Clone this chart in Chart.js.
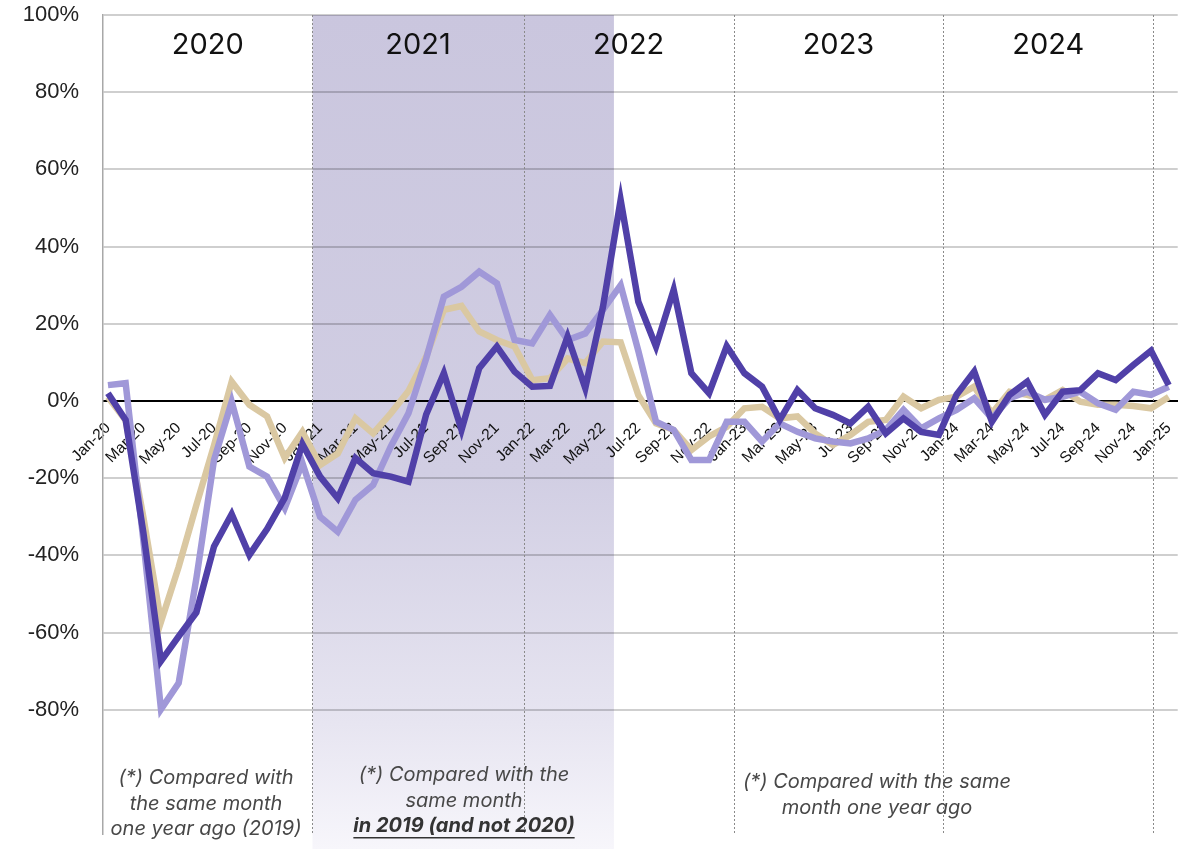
<!DOCTYPE html>
<html>
<head>
<meta charset="utf-8">
<script src="https://cdn.jsdelivr.net/npm/chart.js@4.4.1/dist/chart.umd.min.js"></script>
<style>
  html, body { margin: 0; padding: 0; background: #fff; }
  #wrap { width: 1200px; height: 849px; position: relative; }
</style>
</head>
<body>
<div id="wrap"><canvas id="myChart"></canvas></div>
<script>
// monthly change vs. reference month, Jan-20 .. Jan-25
const months = [
    "Jan-20", "Feb-20", "Mar-20", "Apr-20", "May-20", "Jun-20", "Jul-20", "Aug-20", "Sep-20", "Oct-20", "Nov-20", "Dec-20",
    "Jan-21", "Feb-21", "Mar-21", "Apr-21", "May-21", "Jun-21", "Jul-21", "Aug-21", "Sep-21", "Oct-21", "Nov-21", "Dec-21",
    "Jan-22", "Feb-22", "Mar-22", "Apr-22", "May-22", "Jun-22", "Jul-22", "Aug-22", "Sep-22", "Oct-22", "Nov-22", "Dec-22",
    "Jan-23", "Feb-23", "Mar-23", "Apr-23", "May-23", "Jun-23", "Jul-23", "Aug-23", "Sep-23", "Oct-23", "Nov-23", "Dec-23",
    "Jan-24", "Feb-24", "Mar-24", "Apr-24", "May-24", "Jun-24", "Jul-24", "Aug-24", "Sep-24", "Oct-24", "Nov-24", "Dec-24",
    "Jan-25"
];

const darkSeries = [
    2.0, -4.9, -34, -67.4, -61, -54.8, -37.7, -29.3, -39.9, -33.2, -25.1, -11.2,
    -19.6, -25.2, -14.8, -18.7, -19.6, -20.9, -3.5, 7.2, -7.5, 8.5, 14.1, 7.6,
    3.7, 3.9, 16.7, 3.3, 24.4, 52.1, 25.7, 14.1, 28.8, 7.2, 2.0, 14.2,
    7.2, 3.7, -4.9, 2.8, -1.9, -3.6, -5.8, -1.5, -8.4, -4.5, -8.0, -8.8,
    1.6, 7.6, -5.4, 1.6, 5.0, -3.6, 2.4, 2.8, 7.2, 5.4, 9.3, 13.0,
    4.1
];

const lightSeries = [
    4.1, 4.6, -36, -79.9, -73.1, -46, -15.3, -0.2, -17, -19.6, -27.8, -16.1,
    -30, -33.9, -25.6, -21.8, -11.8, -3.2, 11, 27, 29.6, 33.5, 30.5, 15.8,
    14.9, 22.3, 15.8, 17.5, 23.6, 30, 13, -5.4, -7.5, -15.3, -15.3, -5.4,
    -5.4, -10.5, -5.8, -8, -9.7, -10.5, -11, -9.7, -7.5, -2.3, -7.1, -4.5,
    -2.3, 0.7, -4.5, 0.7, 2.4, 0.3, 1.1, 2.4, -0.6, -2.3, 2.4, 1.6,
    3.7
];

const tanSeries = [
    1, -5, -30, -57.2, -43, -27, -11.5, 5, -1, -4, -14.8, -8,
    -16.6, -13.6, -4.5, -8.4, -3.2, 2.6, 11.5, 23.6, 24.6, 18, 15.8, 14.1,
    5.4, 5.9, 11, 9.8, 15.4, 15.2, 1.5, -5.8, -7.5, -12.7, -9.2, -6.7,
    -1.9, -1.5, -4.5, -4, -8.4, -11.4, -8.8, -5.4, -4.9, 1.1, -1.9, 0.3,
    1.1, 3.7, -3.2, 2.4, 1.6, 0.3, 2.8, -0.2, -1, -1, -1.3, -1.9,
    1
];

const yTicks = [-80, -60, -40, -20, 0, 20, 40, 60, 80, 100];
const xTicks = [0, 2, 4, 6, 8, 10, 12, 14, 16, 18, 20, 22, 24, 26, 28, 30, 32, 34, 36, 38, 40, 42, 44, 46, 48, 50, 52, 54, 56, 58, 60];

const years = ["2020", "2021", "2022", "2023", "2024"];
// year separators and the shaded band, in month units on the x axis
const yearBreaks = [11.57, 23.51, 35.39, 47.25, 59.12];
const shadeFrom = 11.57;
const shadeTo = 28.62;

const notes = [
    { x: 206, lines: ["(*) Compared with", "the same month", "one year ago (2019)"], y: 778, bold: [] },
    { x: 464, lines: ["(*) Compared with the", "same month", "in 2019 (and not 2020)"], y: 775, bold: [2] },
    { x: 877, lines: ["(*) Compared with the same", "month one year ago"], y: 782, bold: [] }
];

const xMin = -0.28;
const xMax = 60.51;

const decorPlugin = {
    id: "decor",
    beforeDraw(chart) {
        const ctx = chart.ctx;
        const area = chart.chartArea;
        const x = chart.scales.x;
        ctx.save();
        ctx.fillStyle = "#fff";
        ctx.fillRect(0, 0, chart.width, chart.height);
        const x0 = x.getPixelForValue(shadeFrom);
        const x1 = x.getPixelForValue(shadeTo);
        const grad = ctx.createLinearGradient(0, area.top, 0, chart.height);
        grad.addColorStop(0, "rgb(202,198,222)");
        grad.addColorStop(0.55, "rgb(209,206,227)");
        grad.addColorStop(0.85, "rgb(231,229,241)");
        grad.addColorStop(1, "rgb(247,246,251)");
        ctx.fillStyle = grad;
        ctx.fillRect(x0, area.top, x1 - x0, chart.height - area.top);
        ctx.restore();
    },
    beforeDatasetsDraw(chart) {
        const ctx = chart.ctx;
        const area = chart.chartArea;
        const x = chart.scales.x;
        ctx.save();
        ctx.strokeStyle = "#8a8a8a";
        ctx.lineWidth = 1;
        ctx.setLineDash([2, 2]);
        yearBreaks.forEach(m => {
            const px = Math.round(x.getPixelForValue(m)) + 0.5;
            ctx.beginPath();
            ctx.moveTo(px, area.top);
            ctx.lineTo(px, area.bottom);
            ctx.stroke();
        });
        ctx.restore();
    },
    afterDraw(chart) {
        const ctx = chart.ctx;
        const area = chart.chartArea;
        const x = chart.scales.x;
        const edges = [xMin].concat(yearBreaks);
        ctx.save();
        ctx.fillStyle = "#111";
        ctx.font = "29px Inter";
        ctx.textAlign = "center";
        ctx.textBaseline = "middle";
        years.forEach((label, i) => {
            const cx = (x.getPixelForValue(edges[i]) + x.getPixelForValue(edges[i + 1])) / 2;
            ctx.fillText(label, cx, area.top + 30);
        });

        notes.forEach(n => {
            n.lines.forEach((line, j) => {
                const bold = n.bold.includes(j);
                ctx.font = (bold ? "italic bold " : "italic ") + "20px Inter";
                ctx.fillStyle = bold ? "#333" : "#484848";
                const ly = n.y + j * 25.5;
                ctx.fillText(line, n.x, ly);
                if (bold) {
                    const w = ctx.measureText(line).width;
                    ctx.fillRect(n.x - w / 2, ly + 11, w, 1.5);
                }
            });
        });
        ctx.restore();
    }
};

const ctx = document.getElementById("myChart").getContext("2d");
const chart = new Chart(ctx, {
    type: "line",
    data: {
        datasets: [
            {
                label: "dark",
                data: darkSeries.map((v, i) => ({ x: i, y: v })),
                borderColor: "#5040a8",
                borderWidth: 6.5,
                order: 1
            },
            {
                label: "light",
                data: lightSeries.map((v, i) => ({ x: i, y: v })),
                borderColor: "#a098d8",
                borderWidth: 6.5,
                order: 2
            },
            {
                label: "tan",
                data: tanSeries.map((v, i) => ({ x: i, y: v })),
                borderColor: "#dac8a2",
                borderWidth: 6.5,
                order: 3
            }
        ]
    },
    options: {
        responsive: true,
        maintainAspectRatio: false,
        animation: false,
        layout: { padding: { top: 15, right: 18, bottom: 15, left: 0 } },
        elements: {
            point: { radius: 0, hoverRadius: 0 },
            line: { tension: 0, borderCapStyle: "butt", borderJoinStyle: "miter" }
        },
        plugins: {
            legend: { display: false },
            tooltip: { enabled: false }
        },
        scales: {
            x: {
                type: "linear",
                position: { y: 0 },
                min: xMin,
                max: xMax,
                afterBuildTicks: s => { s.ticks = xTicks.map(v => ({ value: v })); },
                grid: { display: false, drawTicks: false },
                border: { color: "#000", width: 2 },
                ticks: {
                    autoSkip: false,
                    minRotation: 45,
                    maxRotation: 45,
                    padding: 18,
                    color: "#111",
                    font: { family: "Liberation Sans", size: 15.5 },
                    callback: v => months[v]
                }
            },
            y: {
                min: -112.2,
                max: 100,
                afterBuildTicks: s => { s.ticks = yTicks.map(v => ({ value: v })); },
                afterFit: s => { s.width = 103; s.paddingTop = 0; s.paddingBottom = 0; },
                grid: { color: "rgba(0,0,0,0.19)", lineWidth: 2, drawTicks: false },
                border: { color: "#a8a8a8", width: 1.5 },
                ticks: {
                    padding: 24,
                    color: "#222",
                    font: { family: "Liberation Sans", size: 22 },
                    callback: v => v + "%"
                }
            }
        }
    },
    plugins: [decorPlugin]
});
</script>
</body>
</html>
